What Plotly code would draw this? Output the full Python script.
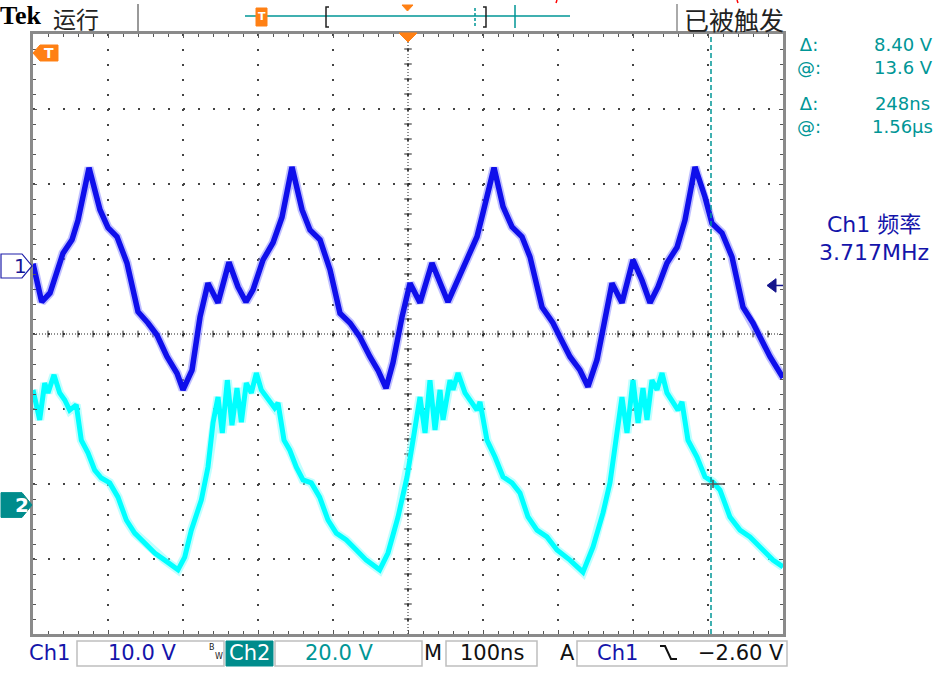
import plotly.graph_objects as go

W, H = 938, 677

# ---------------- data (read from the screen) ----------------
# time in ns from the left edge of the screen (100 ns/div, 10 div)
ch1_t = [0, 11.6, 22.7, 40, 52, 60, 74.7, 89.3, 100, 112, 125.3, 140, 153.3, 165.3, 178.7, 192, 200,
         212, 222.7, 233.3, 246.7, 261.3, 273.3, 284, 293.3, 306.7, 320, 332, 345.3, 358.7, 369.3,
         382.7, 396, 409.3, 422.7, 436, 449.3, 460, 470.7, 480, 492, 502.7, 516, 532, 553.3, 578.7,
         592, 600, 614.7, 626.7, 638.7, 652, 662.7, 678.7, 693.3, 702.7, 716, 729.3, 740, 752, 760,
         772, 785.3, 800, 812, 822.7, 833.3, 845.3, 858.7, 869.3, 882.7, 896, 905.3, 918.7, 932,
         946.7, 960, 969.3, 982.7, 1000]
ch1_v = [0.3, -4.8, -3.6, 1.7, 3.5, 6.1, 13.1, 7.5, 5.1, 3.9, 0.4, -6.1, -7.6, -9.2, -12.1, -14.3, -16.5,
         -13.9, -6.8, -2.3, -4.9, 0.5, -2.8, -4.8, -3.2, 0.8, 3.1, 6.5, 13.2, 7.5, 4.8,
         3.5, -0.5, -6.3, -7.6, -9.5, -12.1, -13.9, -16.3, -12.9, -6.8, -2.3, -4.9, 0.4, -4.8, 1.2,
         3.9, 7.1, 13.1, 7.9, 5.2, 3.9, 1.2, -5.5, -7.6, -9.5, -12.1, -13.9, -16.1, -12.5, -8.1,
         -2.3, -4.9, 0.8, -1.9, -4.9, -2.8, 0.4, 2.5, 6.1, 13.2, 9.2, 5.7, 4.4, 1.2,
         -5.5, -7.6, -9.5, -12.1, -14.9]

ch2_t = [0, 8.9, 15.6, 20, 28, 35.6, 42.3, 48.9, 57.7, 64.4, 73.3, 82.3, 91.1, 102.3, 113.3, 124.4,
         135.6, 148.9, 162.3, 175.6, 193.3, 202.3, 211.1, 224.4, 233.3, 240, 246.7, 252.4, 259.1,
         265.3, 272, 277.8, 284.4, 291.1, 297.8, 304.4, 313.3, 322.2, 326.7, 334.7, 342.2, 351.1,
         360, 371.1, 382.2, 393.3, 404.4, 417.8, 431.1, 444.4, 462.2, 473.3, 486.7, 498.7, 506.7,
         516, 522.7, 529.3, 536, 542.7, 546.7, 556, 560, 566.7, 576, 585.3, 592, 596, 605.3, 616,
         626.7, 638.7, 649.3, 660, 672, 685.3, 698.7, 716, 733.3, 746.7, 760, 769.3, 778.7, 785.3,
         792, 800, 806.7, 813.3, 818.7, 825.3, 832, 838.7, 845.3, 853.3, 860, 865.3, 873.3, 885.3,
         896, 906.7, 916, 929.3, 942.7, 956, 973.3, 986.7, 1000]
ch2_v = [30.7, 22.7, 32.5, 29.9, 34.7, 29.9, 28, 25.3, 26.7, 17.3, 13.9, 9.3, 7.2, 5.9, 2.1, -4,
         -7.5, -10.1, -12.8, -14.7, -17.3, -13.9, -6.7, 1.3, 10.1, 21.9, 28.8, 19.2, 33.3,
         21.3, 31.2, 22.1, 32.5, 29.9, 35.2, 30.7, 28, 25.9, 27.2, 17.3, 14.7, 10.1,
         6.7, 5.9, 2.1, -4, -7.5, -9.3, -12, -14.7, -17.3, -12.8, -3.2, 7.5, 17.3,
         28.8, 19.2, 33.3, 20, 30.7, 22.7, 33.3, 30.7, 35.2, 29.9, 27.2, 25.3, 27.5, 17.3, 12.8,
         7.5, 5.9, 3.2, -3.2, -6.7, -8.5, -12, -14.7, -17.9, -11.2, -2.1, 5.9, 20, 28.8,
         19.2, 33.3, 21.9, 31.2, 22.7, 33.3, 30.7, 35.2, 29.9, 27.2, 25.3, 27.5, 17.3, 12.8,
         7.5, 6.1, 4, -3.2, -6.7, -8.5, -12, -14.7, -16.5]

ch1_vdiv = 10.0      # V/div
ch2_vdiv = 20.0      # V/div
ch1_pos = 0.907      # ground marker position, divisions above centre
ch2_pos = -2.28
t_div = 100          # ns/div
cursor_t = 904       # ns
trig_level = -2.60   # V on Ch1

panel_labels = ["Δ:", "@:", "Δ:", "@:"]
panel_values = ["8.40 V", "13.6 V", "248ns", "1.56µs"]
freq_label = "Ch1 频率"
freq_value = "3.717MHz"

# ---------------- layout helpers ----------------
X0, X1, Y0, Y1 = 33, 783, 34, 634
FONT = "DejaVu Sans"
CJK = "Noto Sans CJK SC"
BLUE_T = "rgb(20,20,170)"
TEAL_T = "rgb(0,150,150)"
TEAL_F = "rgb(0,140,140)"
ORANGE = "rgb(255,128,20)"


def P(x):
    return x / W


def Q(y):
    return 1 - y / H


shapes, annotations = [], []


def line(x0, y0, x1, y1, color, width=1.0, dash=None, layer="above"):
    shapes.append(dict(type="line", xref="paper", yref="paper", x0=P(x0), y0=Q(y0), x1=P(x1),
                       y1=Q(y1), line=dict(color=color, width=width, dash=dash), layer=layer))


def rect(x0, y0, x1, y1, fill="white", lc="rgb(190,190,190)", lw=1.5):
    shapes.append(dict(type="rect", xref="paper", yref="paper", x0=P(x0), y0=Q(y0), x1=P(x1),
                       y1=Q(y1), fillcolor=fill, line=dict(color=lc, width=lw), layer="above"))


def path(pts, fill, lc, lw=1.0, closed=True, dash=None):
    d = "M " + " L ".join(f"{P(x):.5f},{Q(y):.5f}" for x, y in pts) + (" Z" if closed else "")
    shapes.append(dict(type="path", xref="paper", yref="paper", path=d, fillcolor=fill,
                       line=dict(color=lc, width=lw, dash=dash), layer="above"))


def text(x, y, s, size, color, xa="left", family=FONT, ya="middle"):
    annotations.append(dict(x=P(x), y=Q(y), xref="paper", yref="paper", text=s, showarrow=False,
                            xanchor=xa, yanchor=ya, borderpad=0,
                            font=dict(size=size, color=color, family=family)))


# ---------------- figure ----------------
fig = go.Figure()
fig.add_trace(go.Scatter(x=ch2_t, y=ch2_v, yaxis="y3", mode="lines",
                         line=dict(color="rgba(130,255,255,0.5)", width=9), hoverinfo="skip"))
fig.add_trace(go.Scatter(x=ch2_t, y=ch2_v, yaxis="y3", mode="lines",
                         line=dict(color="rgb(0,255,255)", width=5), hoverinfo="skip"))
fig.add_trace(go.Scatter(x=ch1_t, y=ch1_v, yaxis="y2", mode="lines",
                         line=dict(color="rgba(130,130,255,0.5)", width=9), hoverinfo="skip"))
fig.add_trace(go.Scatter(x=ch1_t, y=ch1_v, yaxis="y2", mode="lines",
                         line=dict(color="rgb(15,15,235)", width=5.5), hoverinfo="skip"))

# centre cross of the graticule (grid axes: ns, divisions)
shapes.append(dict(type="line", xref="x", yref="y", x0=0, x1=10 * t_div, y0=0, y1=0, layer="between",
                   line=dict(color="#222", width=1, dash="1px,2px")))
shapes.append(dict(type="line", xref="x", yref="y", x0=5 * t_div, x1=5 * t_div, y0=-4, y1=4, layer="between",
                   line=dict(color="#222", width=1, dash="1px,2px")))
hx = " ".join(f"M {k * t_div / 5},-0.045 L {k * t_div / 5},0.045" for k in range(1, 50))
vy = " ".join(f"M {5 * t_div - 5},{-4 + k * 0.2:.2f} L {5 * t_div + 5},{-4 + k * 0.2:.2f}" for k in range(1, 40))
shapes.append(dict(type="path", xref="x", yref="y", path=hx + " " + vy, layer="between",
                   line=dict(color="#222", width=1)))

# cursor and cross mark
shapes.append(dict(type="line", xref="x", yref="y", x0=cursor_t, x1=cursor_t, y0=-4, y1=4.05,
                   line=dict(color="rgb(0,150,150)", width=1.5, dash="5px,3px"), layer="above"))
line(701, 484, 725, 484, "#555", 1.5)
line(713, 480, 713, 488, "#555", 1.5)

# trigger level arrow (Ch1)
shapes.append(dict(type="path", xref="paper", yref="y2",
                   path=f"M {P(767)},{trig_level} L {P(776)},{trig_level + 0.9} L {P(776)},{trig_level - 0.9} Z",
                   fillcolor="rgb(20,20,140)", line=dict(color="rgb(20,20,140)", width=1)))
shapes.append(dict(type="line", xref="paper", yref="y2", x0=P(775), x1=P(783), y0=trig_level, y1=trig_level,
                   line=dict(color="rgb(20,20,140)", width=1.5)))

# channel ground markers
shapes.append(dict(type="path", xref="paper", yref="y2",
                   path=f"M {P(1)},1.6 L {P(22)},1.6 L {P(32)},0 L {P(22)},-1.6 L {P(1)},-1.6 Z",
                   fillcolor="white", line=dict(color="rgb(30,30,170)", width=1.2)))
annotations.append(dict(x=P(12), y=0, xref="paper", yref="y2", text="1", showarrow=False,
                        font=dict(size=20, color="rgb(20,20,150)", family=FONT)))
shapes.append(dict(type="path", xref="paper", yref="y3",
                   path=f"M {P(1)},3.3 L {P(22)},3.3 L {P(32)},0 L {P(22)},-3.3 L {P(1)},-3.3 Z",
                   fillcolor=TEAL_F, line=dict(color=TEAL_F, width=1)))
annotations.append(dict(x=P(13), y=0, xref="paper", yref="y3", text="<b>2</b>", showarrow=False,
                        font=dict(size=20, color="white", family=FONT)))

# ---- top bar ----
text(-1, 16, "<b>Tek</b>", 26, "black", family="Liberation Serif")
text(52, 0, "运行", 23, "#222", family=CJK, ya="top")
line(138, 4, 138, 31, "#999", 2)
line(677, 4, 677, 31, "#aaa", 2)
text(683, 0, "已被触发", 25, "#222", family=CJK, ya="top")
line(245, 16, 570, 16, "rgb(0,150,150)", 1.5)
line(515, 5, 515, 28, "rgb(0,150,150)", 1.5)
line(475, 8, 475, 26, "rgb(0,150,150)", 1.5, dash="3px,2px")
path([(329, 7), (326, 7), (326, 27), (329, 27)], None, "#222", 1.5, closed=False)
path([(483, 7), (486, 7), (486, 27), (483, 27)], None, "#222", 1.5, closed=False)
rect(256, 8, 267, 26, fill=ORANGE, lc=ORANGE, lw=1)
text(261.5, 17, "<b>T</b>", 11, "white", xa="center")
path([(402, 5), (413, 5), (407.5, 11)], ORANGE, ORANGE)
line(557, 0, 556, 3, "red", 1.5)
line(737, 0, 738, 3, "red", 1.5)

# trigger position marker & T marker on graticule
path([(399, 33), (417, 33), (408, 42)], ORANGE, ORANGE)
path([(33, 53), (40, 45), (58, 45), (58, 61), (40, 61)], ORANGE, ORANGE)
text(49, 53, "<b>T</b>", 14, "white", xa="center")

# ---- right panel ----
text(796, 56, "<br>".join(panel_labels[:2]), 18, TEAL_T)
text(934, 56, "<br>".join(panel_values[:2]), 18, TEAL_T, xa="right")
text(796, 115, "<br>".join(panel_labels[2:]), 18, TEAL_T)
text(934, 115, "<br>".join(panel_values[2:]), 18, TEAL_T, xa="right")
text(874, 224, freq_label, 22, BLUE_T, xa="center", family=FONT + ", " + CJK)
text(874, 253, freq_value, 22, BLUE_T, xa="center")

# ---- bottom bar ----
rect(77, 641, 224, 666)
rect(275, 641, 422, 666)
rect(446, 641, 537, 666)
rect(577, 641, 787, 666)
rect(226, 641, 273, 666, fill=TEAL_F, lc=TEAL_F, lw=1)
text(28, 653, "Ch1", 21, BLUE_T)
text(142, 653, "10.0 V", 21, BLUE_T, xa="center")
text(212, 647, "B", 8, "#222", xa="center")
text(219, 656, "W", 8, "#222", xa="center")
text(249.5, 653, "Ch2", 21, "white", xa="center")
text(339, 653, "20.0 V", 21, TEAL_T, xa="center")
text(433, 653, "M", 21, "#111", xa="center")
text(492, 653, "100ns", 21, "#111", xa="center")
text(567, 653, "A", 21, "#111", xa="center")
text(596, 653, "Ch1", 21, BLUE_T)
path([(660, 646), (665, 646), (671, 659), (677, 659)], None, "#111", 2, closed=False)
text(785, 653, "−2.60 V", 21, "#111", xa="right")

grid_dash = "2px,13px"
fig.update_layout(
    width=W, height=H, margin=dict(l=0, r=0, t=0, b=0),
    paper_bgcolor="white", plot_bgcolor="white", showlegend=False,
    xaxis=dict(domain=[P(X0), P(X1)], range=[0, 10 * t_div], dtick=t_div, tick0=0,
               showgrid=True, griddash=grid_dash, gridcolor="#444", gridwidth=1.6,
               zeroline=False, showticklabels=False, ticks="inside", ticklen=4, tickcolor="#555",
               showline=True, linecolor="#8a8a8a", linewidth=3, mirror="ticks",
               minor=dict(dtick=t_div / 5, ticks="inside", ticklen=3, tickcolor="#555", showgrid=False)),
    yaxis=dict(domain=[Q(Y1), Q(Y0)], range=[-4, 4], dtick=1, tick0=0,
               showgrid=True, griddash=grid_dash, gridcolor="#444", gridwidth=1.6,
               zeroline=False, showticklabels=False, ticks="inside", ticklen=4, tickcolor="#555",
               showline=True, linecolor="#8a8a8a", linewidth=3, mirror="ticks",
               minor=dict(dtick=0.2, ticks="inside", ticklen=3, tickcolor="#555", showgrid=False)),
    yaxis2=dict(overlaying="y", range=[(-4 - ch1_pos) * ch1_vdiv, (4 - ch1_pos) * ch1_vdiv], visible=False),
    yaxis3=dict(overlaying="y", range=[(-4 - ch2_pos) * ch2_vdiv, (4 - ch2_pos) * ch2_vdiv], visible=False),
    shapes=shapes, annotations=annotations,
)

fig.write_html("out.html")
